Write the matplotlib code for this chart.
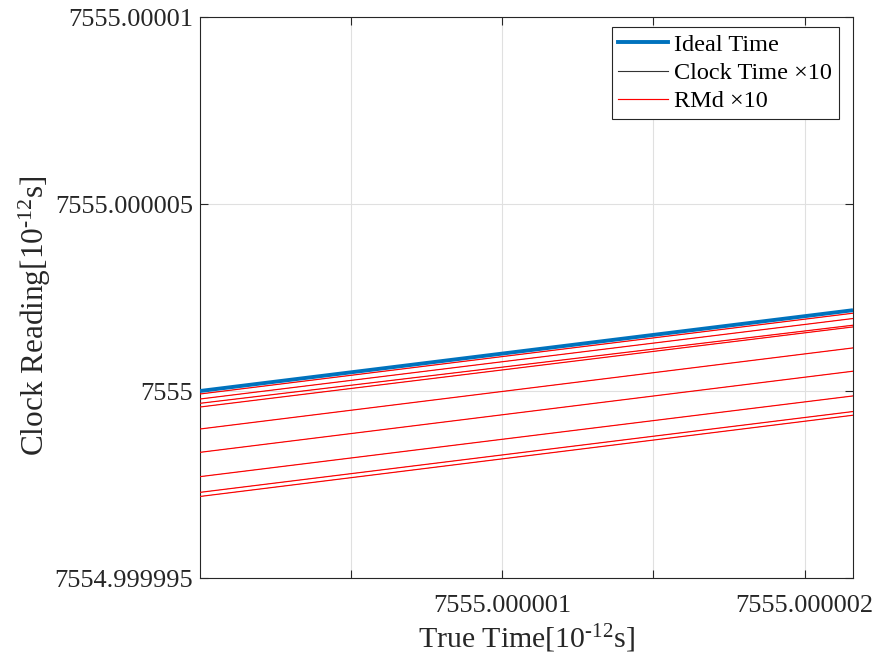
import matplotlib
matplotlib.use("Agg")
import matplotlib.pyplot as plt
from matplotlib.ticker import FixedLocator, FixedFormatter
from matplotlib.lines import Line2D

plt.rcParams['font.family'] = ['Liberation Serif', 'DejaVu Serif']
plt.rcParams['mathtext.fontset'] = 'custom'
plt.rcParams['mathtext.rm'] = 'Liberation Serif'
plt.rcParams['mathtext.it'] = 'Liberation Serif:italic'

# Endpoints of the true-time window
true_time = [7555.0, 7555.00000216]

# Ideal clock: reading equals true time
ideal_time = [7555.0, 7555.00000216]

# Ten realisations: clock reading at the start and end of the window
clock_start = [7555.0, 7554.99999992, 7554.999999786, 7554.999999671, 7554.999999572,
               7554.999998984, 7554.99999836, 7554.99999771, 7554.99999729, 7554.99999718]
clock_end = [7555.00000216, 7555.00000208, 7555.000001938, 7555.000001759, 7555.000001713,
             7555.000001152, 7555.000000529, 7554.999999868, 7554.999999451, 7554.999999352]
rmd_start = clock_start
rmd_end = clock_end

x_ticks = [7555.0000005, 7555.000001, 7555.0000015, 7555.000002]
x_tick_labels = ['', '7555.000001', '', '7555.000002']
y_ticks = [7554.999995, 7555.0, 7555.000005, 7555.00001]
y_tick_labels = ['7554.999995', '7555', '7555.000005', '7555.00001']

fig = plt.figure(figsize=(8.83, 6.67), dpi=100)
ax = fig.add_axes([200 / 883, 1 - 578 / 667, 653 / 883, 561 / 667])

blue = '#0072BD'
axis_col = '#262626'

# Clock-time traces sit underneath the RMd traces
for s, e in zip(clock_start, clock_end):
    ax.plot(true_time, [s, e], color='black', lw=0.12, zorder=2)
for s, e in zip(rmd_start, rmd_end):
    ax.plot(true_time, [s, e], color='#FF0000', lw=0.85, zorder=3)
ax.plot(true_time, ideal_time, color=blue, lw=2.8, zorder=4, solid_capstyle='butt')

ax.set_xlim(true_time[0], true_time[1])
ax.set_ylim(7554.999995, 7555.00001)

ax.xaxis.set_major_locator(FixedLocator(x_ticks))
ax.xaxis.set_major_formatter(FixedFormatter(x_tick_labels))
ax.yaxis.set_major_locator(FixedLocator(y_ticks))
ax.yaxis.set_major_formatter(FixedFormatter(y_tick_labels))

ax.grid(True, color='#e0e0e0', lw=0.8)
ax.set_axisbelow(True)
ax.tick_params(direction='in', top=True, right=True, length=6, width=0.8,
               colors=axis_col, labelsize=19)
ax.tick_params(axis='x', pad=12)
ax.tick_params(axis='y', pad=5)
ax.tick_params(labelcolor='#262626')
for sp in ax.spines.values():
    sp.set_color(axis_col)
    sp.set_linewidth(0.8)

ax.set_xlabel('True Time[10$^{\\text{-12}}$s]', fontsize=21.5, color='#262626', labelpad=4)
ax.set_ylabel('Clock Reading[10$^{\\text{-12}}$s]', fontsize=22.5, color='#262626')
ax.yaxis.set_label_coords(-0.2253, 0.467)

handles = [Line2D([], [], color=blue, lw=2.8),
           Line2D([], [], color='#333333', lw=0.8),
           Line2D([], [], color='#FF0000', lw=0.85)]
labels = ['Ideal Time', 'Clock Time \u00d710', 'RMd \u00d710']
leg = ax.legend(handles, labels,
                loc='upper right', bbox_to_anchor=(0.9786, 0.982), fontsize=17.5,
                frameon=True, fancybox=False, edgecolor='#262626', framealpha=1,
                handlelength=2.05, handletextpad=0.25, borderpad=0.28, labelspacing=0.25,
                borderaxespad=0)
leg.get_frame().set_linewidth(0.8)

fig.savefig('out.png', dpi=100)
